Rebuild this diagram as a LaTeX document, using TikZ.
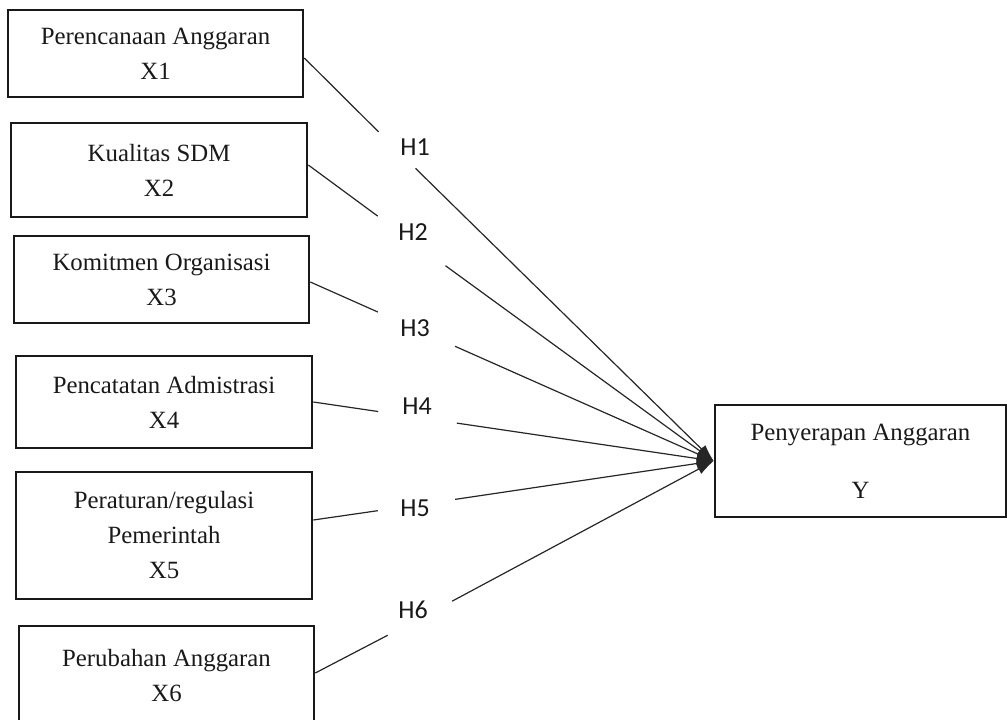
\documentclass[tikz,border=0pt]{standalone}
\usepackage{fontspec}
\setmainfont{Liberation Serif}
\newfontfamily\hfont{Carlito}
\usetikzlibrary{arrows.meta}
\begin{document}
\begin{tikzpicture}[x=1pt,y=-1pt,
  varbox/.style={draw=black!90,line width=2.6pt,inner sep=0pt,align=center,
    font=\fontsize{24.8}{35}\selectfont,text=black!90},
  hlab/.style={font=\hfont\fontsize{26}{28}\selectfont,text=black!90,inner sep=0pt},
  gapnode/.style={circle,inner sep=0pt,draw=none},
  link/.style={line width=1.2pt,draw=black!85},
  arrowlink/.style={link,-{Latex[length=17pt,width=11pt]}}]
\useasboundingbox (0,0) rectangle (1007,720);
\clip (0,0) rectangle (1007,720);
% boxes
\node[varbox,minimum width=295pt,minimum height=87pt] (x1) at (155.5,53.5) {Perencanaan Anggaran\\X1};
\node[varbox,minimum width=296pt,minimum height=94pt] (x2) at (159,170) {Kualitas SDM\\X2};
\node[varbox,minimum width=295pt,minimum height=87pt] (x3) at (161.5,279.5) {Komitmen Organisasi\\X3};
\node[varbox,minimum width=296pt,minimum height=92pt] (x4) at (164,402) {Pencatatan Admistrasi\\X4};
\node[varbox,minimum width=296pt,minimum height=127pt] (x5) at (164,535.5) {Peraturan/regulasi\\Pemerintah\\X5};
\node[varbox,minimum width=295pt,minimum height=99pt] (x6) at (166.5,675.5) {Perubahan Anggaran\\X6};
\node[varbox,minimum width=291pt,minimum height=112pt] (y) at (860.5,461) {Penyerapan Anggaran\\[23pt]Y};
% hypothesis labels
\node[hlab] (h1) at (415,147) {H1};
\node[hlab] (h2) at (413,232) {H2};
\node[hlab] (h3) at (415,328) {H3};
\node[hlab] (h4) at (417,406) {H4};
\node[hlab] (h5) at (415,508) {H5};
\node[hlab] (h6) at (413,610) {H6};
% gaps in the connectors
\node[gapnode,minimum size=51.6pt] (g1) at (397,150.2) {};
\node[gapnode,minimum size=83.6pt] (g2) at (411.5,241) {};
\node[gapnode,minimum size=84pt] (g3) at (416.5,329.2) {};
\node[gapnode,minimum size=79pt] (g4) at (417.5,417.3) {};
\node[gapnode,minimum size=77.8pt] (g5) at (416.5,505.1) {};
\node[gapnode,minimum size=72.5pt] (g6) at (420,618.4) {};
% connectors
\draw[link] ([yshift=-4.5pt]x1.east) -- (g1);
\draw[link] ([yshift=5pt]x2.east) -- (g2);
\draw[link] ([yshift=-2.5pt]x3.east) -- (g3);
\draw[link] (x4.east) -- (g4);
\draw[link] ([yshift=15.5pt]x5.east) -- (g5);
\draw[link] ([yshift=2.5pt]x6.east) -- (g6);
\draw[arrowlink] (g1) -- (y.west);
\draw[arrowlink] (g2) -- (y.west);
\draw[arrowlink] (g3) -- (y.west);
\draw[arrowlink] (g4) -- (y.west);
\draw[arrowlink] (g5) -- (y.west);
\draw[arrowlink] (g6) -- (y.west);
\end{tikzpicture}
\end{document}
